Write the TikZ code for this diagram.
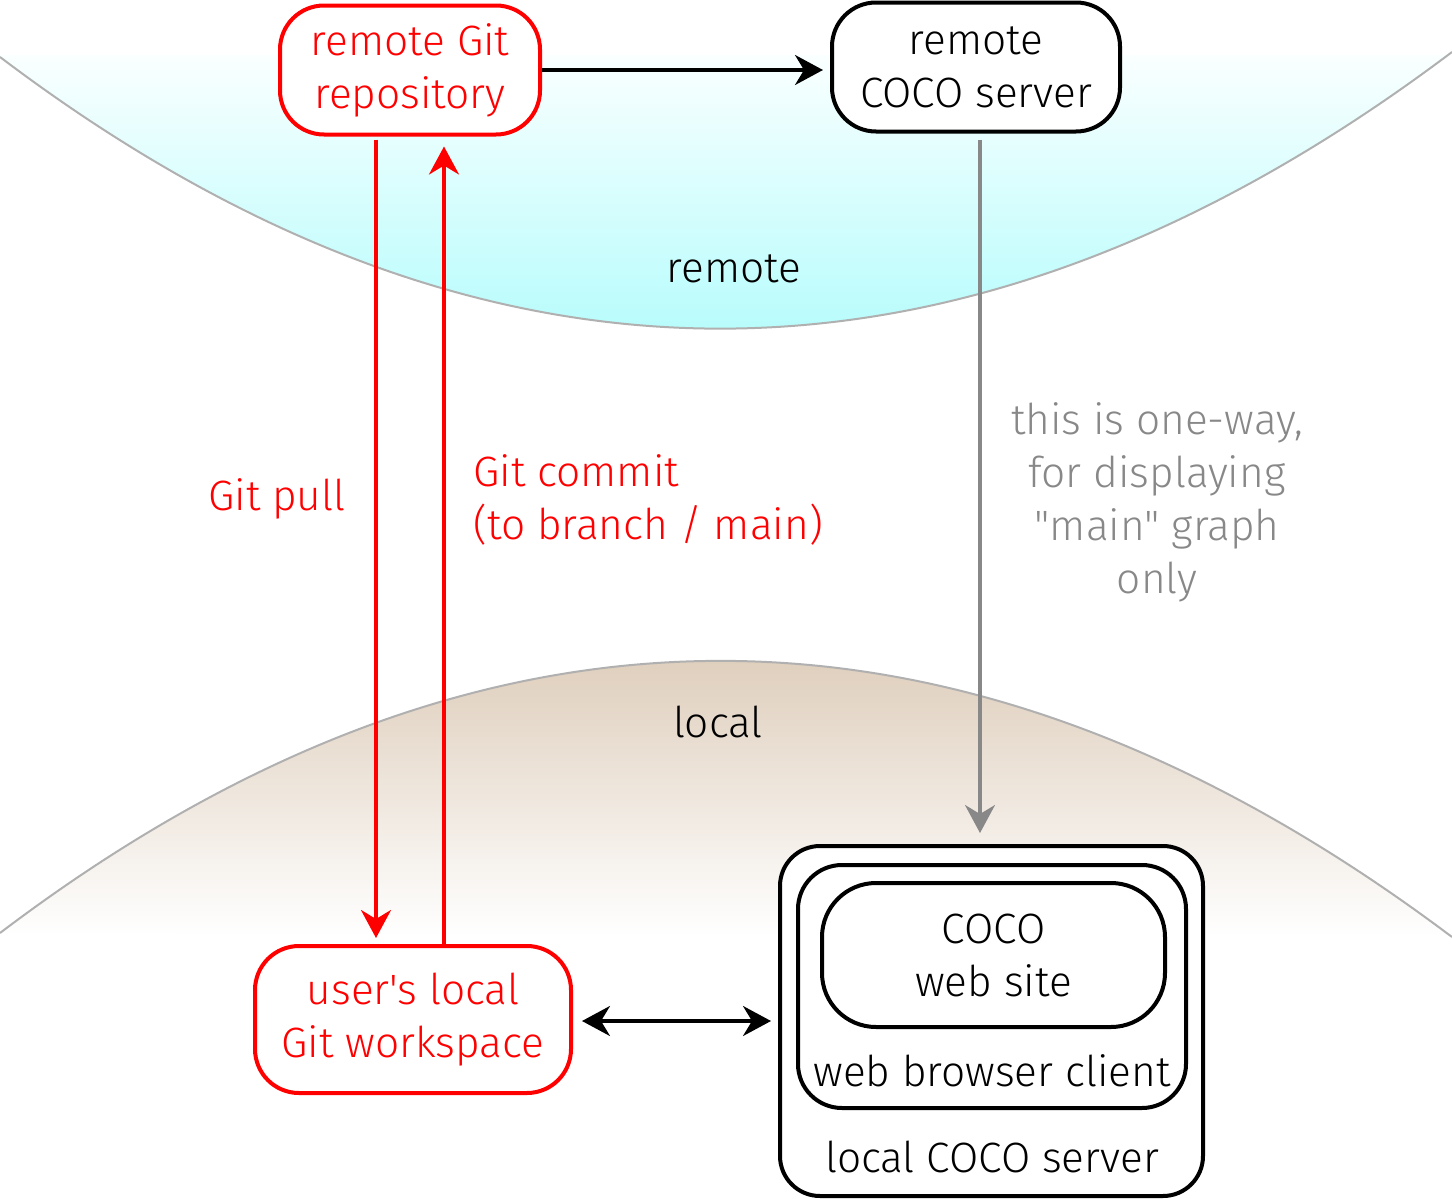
\documentclass[tikz,border=0pt]{standalone}
\usepackage{fontspec}
\setmainfont{Fira Sans}[UprightFont=* Light, Ligatures=TeXOff]
\usetikzlibrary{arrows.meta}
\definecolor{rred}{RGB}{255,0,0}
\definecolor{ggray}{RGB}{136,136,136}
\definecolor{cyanbot}{RGB}{184,252,252}
\definecolor{cyantop}{RGB}{250,255,255}
\definecolor{tantop}{RGB}{223,207,189}
\definecolor{curvegray}{RGB}{176,176,176}
\tikzset{
  txt/.style={font=\fontsize{21.2pt}{26.5pt}\selectfont, align=center, inner sep=0pt},
  redbox/.style={draw=rred, text=rred, line width=2pt, fill=white, rounded corners=22pt, txt},
  blackbox/.style={draw=black, line width=2pt, fill=white, txt},
  tip/.style={-{Stealth[length=14pt,width=15pt,inset=4.5pt]}},
  redarrow/.style={tip, draw=rred, line width=1.8pt},
  blackarrow/.style={tip, draw=black, line width=1.6pt},
  grayarrow/.style={tip, draw=ggray, line width=1.6pt},
  dblarrow/.style={{Stealth[length=14pt,width=15pt,inset=4.5pt]}-{Stealth[length=14pt,width=15pt,inset=4.5pt]}, draw=black, line width=1.6pt},
  region/.style={draw=curvegray, line width=1pt}
}
\begin{document}
\begin{tikzpicture}[x=0.5pt,y=-0.5pt]
\useasboundingbox (0,0) rectangle (1452,1199);
% remote region
\begin{scope}
  \clip (0,57) .. controls (481,421) and (965,419) .. (1452,52) -- (1452,0) -- (0,0) -- cycle;
  \shade[top color=cyantop, bottom color=cyanbot] (0,55) rectangle (1452,331);
\end{scope}
\draw[region] (0,57) .. controls (481,421) and (965,419) .. (1452,52);
% local region
\begin{scope}
  \clip (0,933) .. controls (480,569) and (964,570) .. (1452,937) -- cycle;
  \shade[top color=tantop, bottom color=white] (0,659) rectangle (1452,936);
\end{scope}
\draw[region] (0,933) .. controls (480,569) and (964,570) .. (1452,937);

\node[txt] (lremote) at (734,269) {remote};
\node[txt] (llocal) at (718,722) {local};

% boxes
\node[redbox, minimum width=130pt, minimum height=64.5pt] (rgit) at (410,70) {remote Git\\repository};
\node[blackbox, rounded corners=22pt, minimum width=144pt, minimum height=64.5pt] (rcoco) at (976,67) {remote\\COCO server};
\node[redbox, minimum width=158pt, minimum height=73.5pt] (ulw) at (413,1019.5) {user's local\\Git workspace};
\node[blackbox, rounded corners=20pt, minimum width=211.5pt, minimum height=175pt] (lcoco) at (991.5,1021) {};
\node[blackbox, rounded corners=22pt, minimum width=194pt, minimum height=121.5pt] (wbc) at (992,986.5) {};
\node[blackbox, rounded corners=27pt, minimum width=171.5pt, minimum height=72pt] (cws) at (993.5,955) {COCO\\web site};
\node[txt] (lwbc) at (992,1071) {web browser client};
\node[txt] (llcoco) at (992,1157) {local COCO server};

% connectors
\coordinate (px) at (376,0);
\coordinate (cx) at (444,0);
\coordinate (gx) at (980,0);
\draw[blackarrow, shorten >=3.5pt] (rgit.east) -- (rgit.east -| rcoco.west);
\draw[redarrow, shorten <=1.5pt, shorten >=3pt] (rgit.south -| px) -- (ulw.north -| px);
\draw[redarrow, shorten >=5pt] (ulw.north -| cx) -- (rgit.south -| cx);
\draw[grayarrow, shorten <=3pt, shorten >=5.5pt] (rcoco.south -| gx) -- (lcoco.north -| gx);
\draw[dblarrow, shorten <=4.5pt, shorten >=3.5pt] (ulw.east |- 0,1021) -- (lcoco.west |- 0,1021);

% labels
\node[txt, text=rred] (lpull) at (277,499) {Git pull};
\node[txt, text=rred, align=left, anchor=west] (lcommit) at (473,500) {Git commit\\(to branch / main)};
\node[txt, text=ggray] (loneway) at (1157,502) {this is one-way,\\for displaying\\"main" graph\\only};
\end{tikzpicture}
\end{document}
